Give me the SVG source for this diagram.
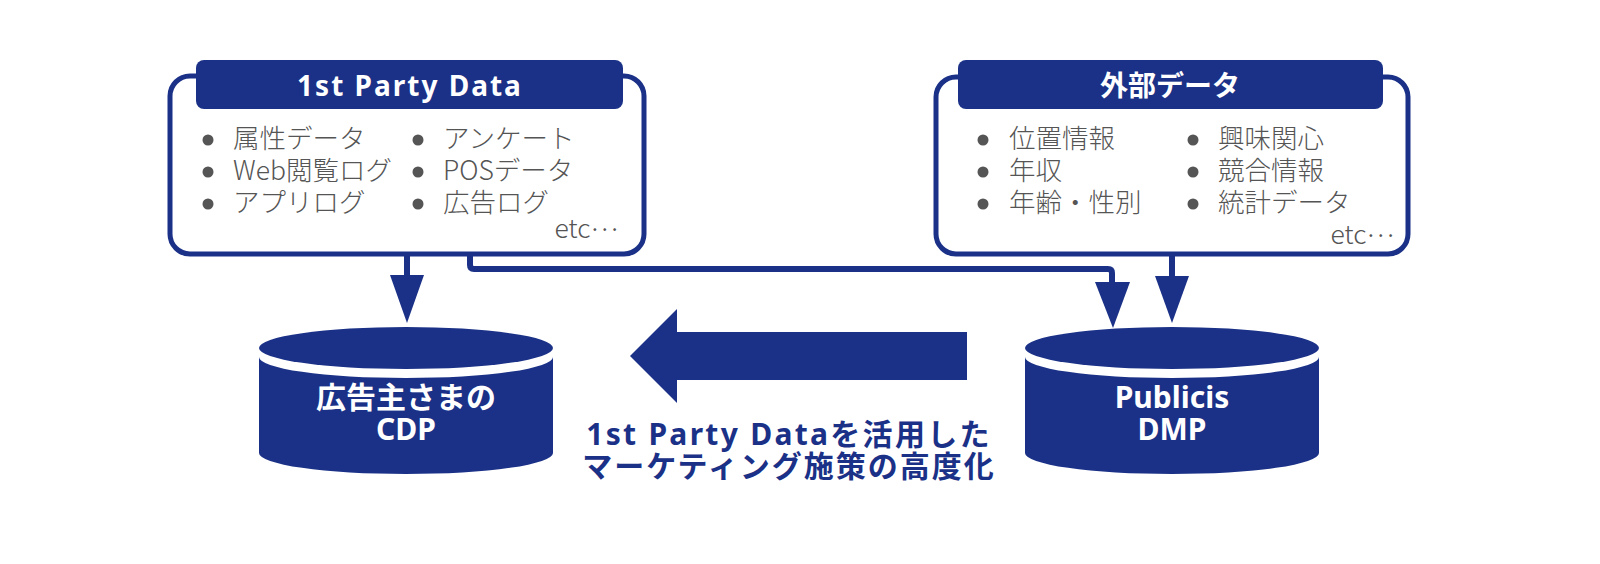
<svg xmlns="http://www.w3.org/2000/svg" width="1600" height="564" viewBox="0 0 1600 564">
<style>
.navy{fill:#1a3187}
.box{fill:#fff;stroke:#1a3187;stroke-width:5}
.hdr{fill:#1a3187}
.ht{font-family:"Noto Sans","Noto Sans CJK JP",sans-serif;font-weight:700;font-size:28px;fill:#fff;text-anchor:middle}
.it{font-family:"Noto Sans CJK JP","Noto Sans",sans-serif;font-weight:300;font-size:26.5px;fill:#555}
.dot{fill:#555}
.ct{font-family:"Noto Sans","Noto Sans CJK JP",sans-serif;font-weight:700;font-size:30px;fill:#fff;text-anchor:middle}
.cap{font-family:"Noto Sans","Noto Sans CJK JP",sans-serif;font-weight:700;font-size:30px;fill:#1a3187;text-anchor:middle}
.ln{fill:none;stroke:#1a3187;stroke-width:6;stroke-linejoin:round}
</style>
<rect width="1600" height="564" fill="#fff"/>

<g id="connectors">
<path class="ln" d="M407,254 V277"/>
<polygon class="navy" points="390,275 424,275 407,323"/>
<path class="ln" d="M470,254 V265 Q470,269 474,269 H1108 Q1112,269 1112,273 V284"/>
<polygon class="navy" points="1095,282 1130,282 1113,328"/>
<path class="ln" d="M1172,254 V278"/>
<polygon class="navy" points="1155,276 1189,276 1172,323"/>
<polygon class="navy" points="630,356 677,309 677,332 967,332 967,380 677,380 677,403"/>
</g>

<g id="first-party">
<rect class="box" x="170" y="76" width="474" height="178" rx="20"/>
<rect class="hdr" x="196" y="60" width="427" height="49" rx="8"/>
<text class="ht" x="410" y="96" letter-spacing="2">1st Party Data</text>
<circle class="dot" cx="208" cy="140" r="5.5"/>
<circle class="dot" cx="208" cy="172" r="5.5"/>
<circle class="dot" cx="208" cy="204" r="5.5"/>
<circle class="dot" cx="418" cy="140" r="5.5"/>
<circle class="dot" cx="418" cy="172" r="5.5"/>
<circle class="dot" cx="418" cy="204" r="5.5"/>
<text class="it" x="233" y="148">属性データ</text>
<text class="it" x="233" y="180">Web閲覧ログ</text>
<text class="it" x="233" y="212">アプリログ</text>
<text class="it" x="443" y="148">アンケート</text>
<text class="it" x="443" y="180">POSデータ</text>
<text class="it" x="443" y="212">広告ログ</text>
<text class="it" x="618" y="238" text-anchor="end">etc<tspan dy="-7">…</tspan></text>
</g>

<g id="external">
<rect class="box" x="936" y="77" width="472" height="177" rx="20"/>
<rect class="hdr" x="958" y="60" width="425" height="49" rx="8"/>
<text class="ht" x="1170" y="96">外部データ</text>
<circle class="dot" cx="983" cy="140" r="5.5"/>
<circle class="dot" cx="983" cy="172" r="5.5"/>
<circle class="dot" cx="983" cy="204" r="5.5"/>
<circle class="dot" cx="1193" cy="140" r="5.5"/>
<circle class="dot" cx="1193" cy="172" r="5.5"/>
<circle class="dot" cx="1193" cy="204" r="5.5"/>
<text class="it" x="1009" y="148">位置情報</text>
<text class="it" x="1009" y="180">年収</text>
<text class="it" x="1009" y="212">年齢・性別</text>
<text class="it" x="1218" y="148">興味関心</text>
<text class="it" x="1218" y="180">競合情報</text>
<text class="it" x="1218" y="212">統計データ</text>
<text class="it" x="1394" y="244" text-anchor="end">etc<tspan dy="-7">…</tspan></text>
</g>

<g id="cdp">
<path class="navy" d="M259,357 A147,21 0 0 0 553,357 V453 A147,21 0 0 1 259,453 Z"/>
<ellipse class="navy" cx="406" cy="348" rx="147" ry="21"/>
<text class="ct" x="406" y="408">広告主さまの</text>
<text class="ct" x="406" y="440">CDP</text>
</g>

<g id="dmp">
<path class="navy" d="M1025,357 A147,21 0 0 0 1319,357 V453 A147,21 0 0 1 1025,453 Z"/>
<ellipse class="navy" cx="1172" cy="348" rx="147" ry="21"/>
<text class="ct" x="1172" y="408">Publicis</text>
<text class="ct" x="1172" y="440">DMP</text>
</g>

<g id="caption">
<text class="cap" x="789" y="445" letter-spacing="2.3">1st Party Dataを活用した</text>
<text class="cap" x="789" y="477" letter-spacing="2">マーケティング施策の高度化</text>
</g>
</svg>
